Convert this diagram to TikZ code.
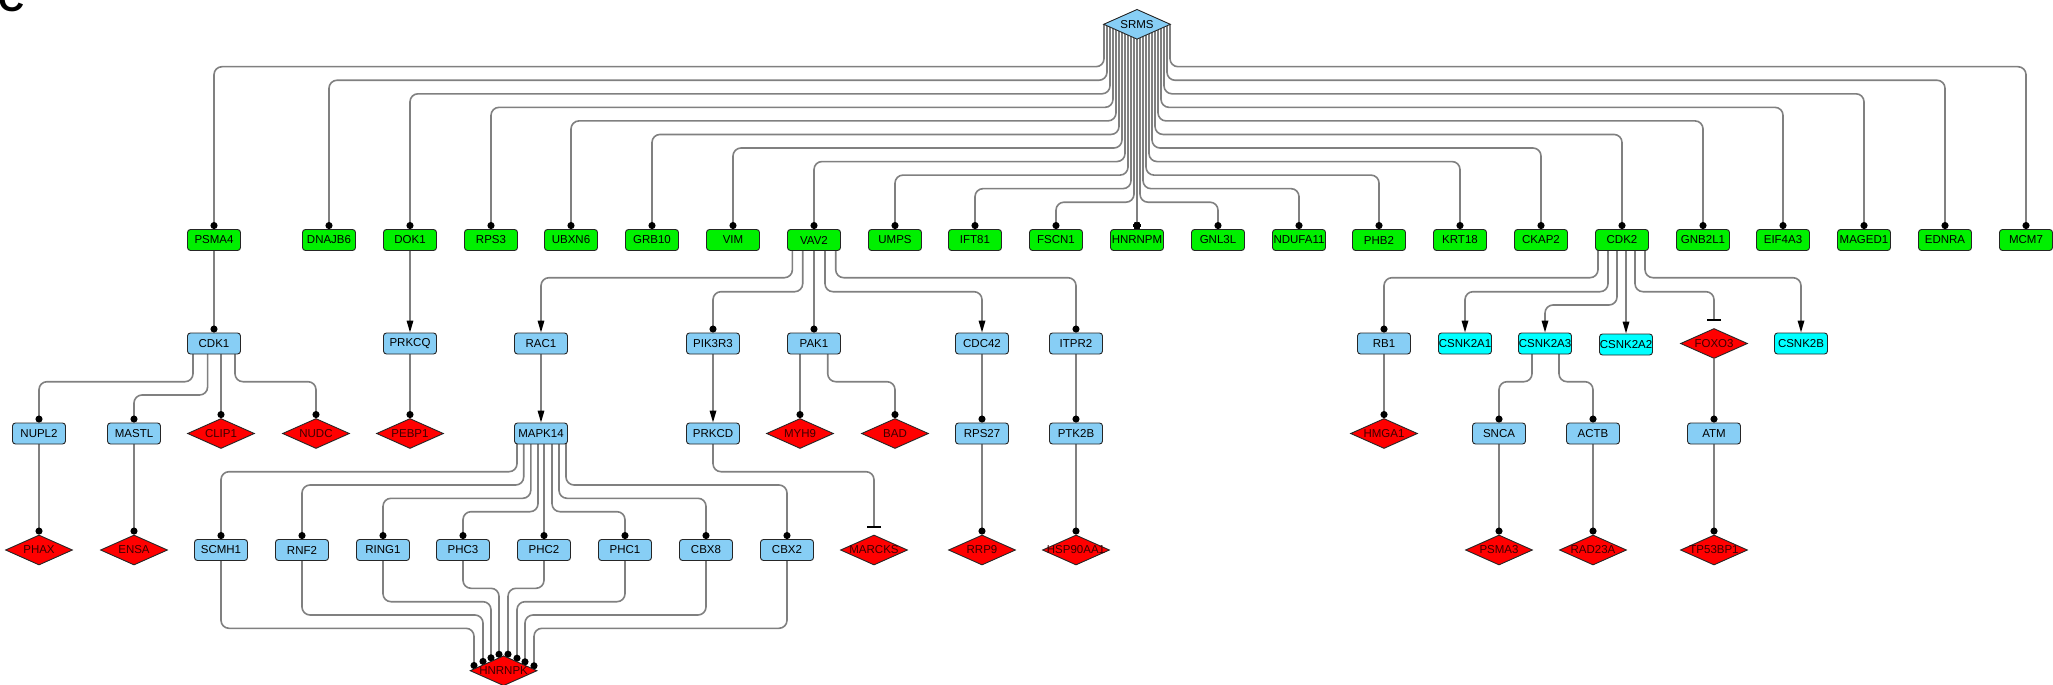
\documentclass[tikz,border=0pt]{standalone}
\usepackage{fontspec}
\setmainfont{Liberation Sans}
\usetikzlibrary{shapes.geometric,arrows.meta}
\pgfdeclarelayer{background}
\pgfsetlayers{background,main}
\definecolor{gfill}{RGB}{0,240,0}
\definecolor{bfill}{RGB}{135,206,245}
\definecolor{cfill}{RGB}{0,255,255}
\definecolor{rfill}{RGB}{255,0,0}
\definecolor{edgegray}{RGB}{128,128,128}
\definecolor{rtext}{RGB}{60,0,0}
\newcommand{\zw}[1]{\hbox to 0pt{\hss#1\hss}}
\tikzset{
  lbl/.style={font=\fontsize{11.5}{13}\selectfont, inner sep=0pt},
  nbx/.style={lbl, rectangle, rounded corners=3pt, minimum width=53pt, minimum height=21pt, draw=black!85, line width=0.9pt},
  gbx/.style={nbx, fill=gfill},
  bbx/.style={nbx, fill=bfill},
  cbx/.style={nbx, fill=cfill},
  rdia/.style={lbl, diamond, minimum width=67pt, minimum height=30pt, draw=black!85, line width=0.9pt, fill=rfill, text=rtext},
  bdia/.style={rdia, fill=bfill, text=black},
  edge/.style={draw=edgegray, line width=1.6pt, rounded corners=8pt},
  edot/.style={-{Circle[length=7pt,color=black]}},
  earr/.style={-{Triangle[length=12pt,width=6.5pt,color=black]}},
  einh/.style={-{Bar[width=14pt,color=black]}},
}
% routed link: style, source, dx, level, target
\newcommand{\lnk}[5]{\draw[edge,#1] ([xshift=#3]#2.center) -- ([xshift=#3]#2.center |- 0,#4) -- (#5.north |- 0,#4) -- (#5.north);}
% straight link
\newcommand{\stl}[3]{\draw[edge,#1] (#3.north |- #2.south) -- (#3.north);}
% inhibition link (bar above target)
\newcommand{\inl}[4]{\draw[edge,einh] ([xshift=#2]#1.center) -- ([xshift=#2]#1.center |- 0,#3) -- (#4.north |- 0,#3) -- ([yshift=7pt]#4.north);}
% link into HNRNPK: source, level, dx, dy
\newcommand{\hkl}[4]{\draw[edge,edot] (#1.south) -- (#1.south |- 0,#2) -- ([xshift=#3]HNRNPK.center |- 0,#2) -- ([xshift=#3,yshift=#4]HNRNPK.center);}
\begin{document}
\begin{tikzpicture}[x=1pt,y=-1pt]
\useasboundingbox (0,0) rectangle (2053,685);
\node[anchor=base west, font=\fontsize{36}{36}\selectfont\bfseries, inner sep=0pt] (lblC) at (-2,12) {C};
% top
\node[bdia] (SRMS) at (1137,24.3) {\zw{SRMS}};
% green row
\foreach \n/\x in {PSMA4/214, DNAJB6/329, DOK1/410, RPS3/491, UBXN6/571, GRB10/652, VIM/733, VAV2/814, UMPS/895, IFT81/975, FSCN1/1056, HNRNPM/1137, GNL3L/1218, NDUFA11/1299, PHB2/1379, KRT18/1460, CKAP2/1541, CDK2/1622, GNB2L1/1703, EIF4A3/1783, MAGED1/1864, EDNRA/1945, MCM7/2026}
  \node[gbx] (\n) at (\x,240) {\zw{\n}};
% row 2
\foreach \n/\x in {CDK1/214, PRKCQ/410, RAC1/541, PIK3R3/713, PAK1/814, CDC42/982, ITPR2/1076, RB1/1384}
  \node[bbx] (\n) at (\x,343.5) {\zw{\n}};
\foreach \n/\x in {CSNK2A1/1465, CSNK2A3/1545, CSNK2B/1801}
  \node[cbx] (\n) at (\x,343.5) {\zw{\n}};
\node[cbx] (CSNK2A2) at (1626,344.5) {\zw{CSNK2A2}};
\node[rdia] (FOXO3) at (1714,343.5) {\zw{FOXO3}};
% row 3
\foreach \n/\x in {NUPL2/39, MASTL/134, MAPK14/541, PRKCD/713, RPS27/982, PTK2B/1076, SNCA/1499, ACTB/1593, ATM/1714}
  \node[bbx] (\n) at (\x,433.5) {\zw{\n}};
\foreach \n/\x in {CLIP1/221, NUDC/316, PEBP1/410, MYH9/800, BAD/895, HMGA1/1384}
  \node[rdia] (\n) at (\x,433.5) {\zw{\n}};
% row 4
\foreach \n/\x in {SCMH1/221, RNF2/302, RING1/383, PHC3/463, PHC2/544, PHC1/625, CBX8/706, CBX2/787}
  \node[bbx] (\n) at (\x,550) {\zw{\n}};
\foreach \n/\x in {PHAX/39, ENSA/134, MARCKS/874, RRP9/982, HSP90AA1/1076, PSMA3/1499, RAD23A/1593, TP53BP1/1714}
  \node[rdia] (\n) at (\x,550) {\zw{\n}};
\node[rdia] (HNRNPK) at (503.6,670.7) {\zw{HNRNPK}};

\begin{pgfonlayer}{background}
% SRMS fan
\foreach \t/\dx/\L in {PSMA4/-33/66.7, DNAJB6/-30/80.25, DOK1/-27/93.8, RPS3/-24/107.35, UBXN6/-21/120.9, GRB10/-18/134.45, VIM/-15/148, VAV2/-12/161.55, UMPS/-9/175.1, IFT81/-6/188.65, FSCN1/-3/202.2, GNL3L/3/202.2, NDUFA11/6/188.65, PHB2/9/175.1, KRT18/12/161.55, CKAP2/15/148, CDK2/18/134.45, GNB2L1/21/120.9, EIF4A3/24/107.35, MAGED1/27/93.8, EDNRA/30/80.25, MCM7/33/66.7}
  \lnk{edot}{SRMS}{\dx pt}{\L}{\t}
\draw[edge,edot] (HNRNPM.north |- SRMS.center) -- (HNRNPM.north);
% row 1 -> row 2
\stl{edot}{PSMA4}{CDK1}
\stl{earr}{DOK1}{PRKCQ}
\lnk{earr}{VAV2}{-21.6pt}{277.7}{RAC1}
\lnk{edot}{VAV2}{-11.3pt}{291.7}{PIK3R3}
\stl{edot}{VAV2}{PAK1}
\lnk{earr}{VAV2}{11pt}{291.7}{CDC42}
\lnk{edot}{VAV2}{21.7pt}{277.7}{ITPR2}
\lnk{edot}{CDK2}{-24pt}{277.7}{RB1}
\lnk{earr}{CDK2}{-14pt}{291.7}{CSNK2A1}
\lnk{earr}{CDK2}{-5pt}{305}{CSNK2A3}
\stl{earr}{CDK2}{CSNK2A2}
\inl{CDK2}{13pt}{291.7}{FOXO3}
\lnk{earr}{CDK2}{23pt}{277.7}{CSNK2B}
% row 2 -> row 3
\lnk{edot}{CDK1}{-21pt}{381.7}{NUPL2}
\lnk{edot}{CDK1}{-6.4pt}{395}{MASTL}
\stl{edot}{CDK1}{CLIP1}
\lnk{edot}{CDK1}{21pt}{381.7}{NUDC}
\stl{edot}{PRKCQ}{PEBP1}
\stl{earr}{RAC1}{MAPK14}
\stl{earr}{PIK3R3}{PRKCD}
\stl{edot}{PAK1}{MYH9}
\lnk{edot}{PAK1}{13.7pt}{381.7}{BAD}
\stl{edot}{CDC42}{RPS27}
\stl{edot}{ITPR2}{PTK2B}
\stl{edot}{RB1}{HMGA1}
\lnk{edot}{CSNK2A3}{-13pt}{381.7}{SNCA}
\lnk{edot}{CSNK2A3}{14pt}{381.7}{ACTB}
\stl{edot}{FOXO3}{ATM}
% row 3 -> row 4
\stl{edot}{NUPL2}{PHAX}
\stl{edot}{MASTL}{ENSA}
\lnk{edot}{MAPK14}{-24pt}{471.7}{SCMH1}
\lnk{edot}{MAPK14}{-17.3pt}{485}{RNF2}
\lnk{edot}{MAPK14}{-10.2pt}{498.3}{RING1}
\lnk{edot}{MAPK14}{-3pt}{511.7}{PHC3}
\stl{edot}{MAPK14}{PHC2}
\lnk{edot}{MAPK14}{11pt}{511.7}{PHC1}
\lnk{edot}{MAPK14}{18pt}{498.3}{CBX8}
\lnk{edot}{MAPK14}{25pt}{485}{CBX2}
\inl{PRKCD}{0pt}{471.7}{MARCKS}
\stl{edot}{RPS27}{RRP9}
\stl{edot}{PTK2B}{HSP90AA1}
\stl{edot}{SNCA}{PSMA3}
\stl{edot}{ACTB}{RAD23A}
\stl{edot}{ATM}{TP53BP1}
% row 4 -> HNRNPK
\hkl{SCMH1}{628.3}{-29.6pt}{1.7pt}
\hkl{RNF2}{615}{-20.6pt}{5.8pt}
\hkl{RING1}{601.7}{-12.6pt}{9.4pt}
\hkl{PHC3}{588.3}{-4.6pt}{12.9pt}
\hkl{PHC2}{588.3}{4.4pt}{13pt}
\hkl{PHC1}{601.7}{13.4pt}{9pt}
\hkl{CBX8}{615}{21.4pt}{5.4pt}
\hkl{CBX2}{628.3}{30.4pt}{1.4pt}
\end{pgfonlayer}
\end{tikzpicture}
\end{document}
